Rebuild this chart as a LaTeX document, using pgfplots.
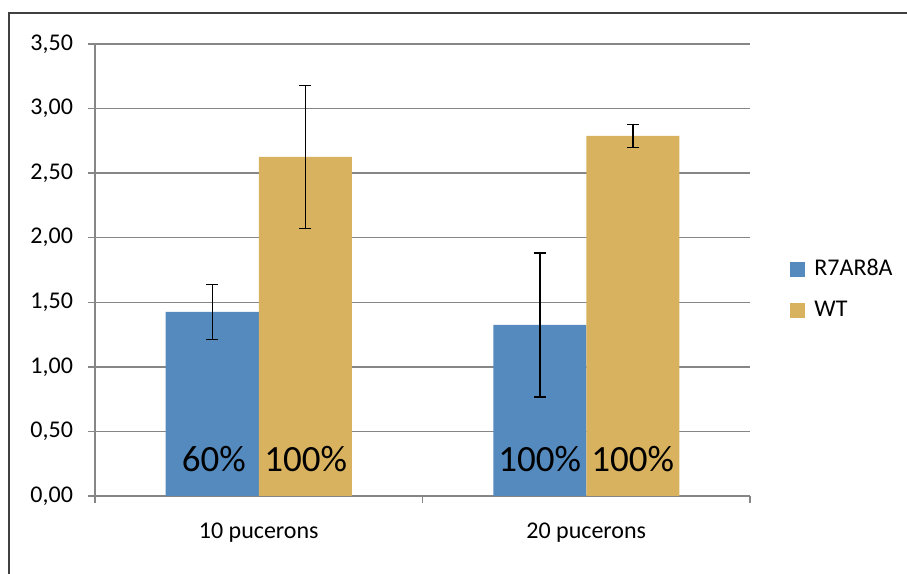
\documentclass[border=0pt]{standalone}
\usepackage{pgfplots}
\pgfplotsset{compat=1.18}
\usepackage{fontspec}
\setmainfont{Carlito}
\definecolor{barblue}{RGB}{84,138,190}
\definecolor{bargold}{RGB}{216,178,94}
\definecolor{gridgray}{RGB}{134,134,134}
\definecolor{framegray}{RGB}{64,64,64}
\begin{document}
\begin{tikzpicture}
\useasboundingbox (0,0) rectangle (453.5bp,287bp);
% chart frame (right and bottom edges fall outside the picture)
\draw[framegray, line width=1.1bp] (4.5bp,0) -- (4.5bp,280.5bp) -- (453.5bp,280.5bp);
\begin{axis}[
    at={(47.5bp,39bp)}, anchor=south west,
    scale only axis,
    width=327.5bp, height=226bp,
    xmin=0.5, xmax=2.5,
    ymin=0, ymax=3.5,
    axis x line=bottom, axis y line=left,
    axis line style={-, gridgray, line width=0.75bp},
    tick align=outside,
    major tick length=3.5bp,
    tick style={gridgray, line width=0.75bp},
    xtick={0.5,1.5,2.5}, xticklabels={},
    extra x ticks={1,2},
    extra x tick labels={10 pucerons,20 pucerons},
    extra x tick style={major tick length=0pt, xticklabel style={yshift=-10bp}},
    ytick={0,0.5,...,3.5},
    ymajorgrids,
    grid style={gridgray, line width=0.75bp},
    /pgf/number format/assume math mode=true,
    yticklabel style={xshift=-4bp, /pgf/number format/.cd, fixed, fixed zerofill, precision=2, use comma},
    ticklabel style={font=\fontsize{12bp}{14bp}\selectfont},
    ybar=0pt, bar width=46.5bp,
    legend cell align=left,
    legend style={at={(1.052,0.457)}, anchor=west, draw=none, fill=none,
        font=\fontsize{12bp}{14bp}\selectfont, row sep=7bp,
        /tikz/every even column/.append style={column sep=2bp}},
    legend image code/.code={\fill[#1] (0bp,-3.7bp) rectangle (7.5bp,3.7bp);},
]
\addplot[fill=barblue, draw=none,
    error bars/.cd, y dir=both, y explicit,
    error bar style={black, line width=0.75bp},
    error mark options={black, rotate=90, line width=0.75bp, mark size=3bp}]
    coordinates {(1,1.425) +- (0,0.213) (2,1.325) +- (0,0.557)};
\addplot[fill=bargold, draw=none,
    error bars/.cd, y dir=both, y explicit,
    error bar style={black, line width=0.75bp},
    error mark options={black, rotate=90, line width=0.75bp, mark size=3bp}]
    coordinates {(1,2.626) +- (0,0.554) (2,2.789) +- (0,0.089)};
\legend{\hspace{2.5bp}R7AR8A,\hspace{2.5bp}WT}
\node[font=\fontsize{18.5bp}{21bp}\selectfont] at (axis cs:1,0.29) [xshift=-22.5bp] {60\%};
\node[font=\fontsize{18.5bp}{21bp}\selectfont] at (axis cs:1,0.29) [xshift=23.5bp] {100\%};
\node[font=\fontsize{18.5bp}{21bp}\selectfont] at (axis cs:2,0.29) [xshift=-23.25bp] {100\%};
\node[font=\fontsize{18.5bp}{21bp}\selectfont] at (axis cs:2,0.29) [xshift=23.25bp] {100\%};
\end{axis}
\end{tikzpicture}
\end{document}
